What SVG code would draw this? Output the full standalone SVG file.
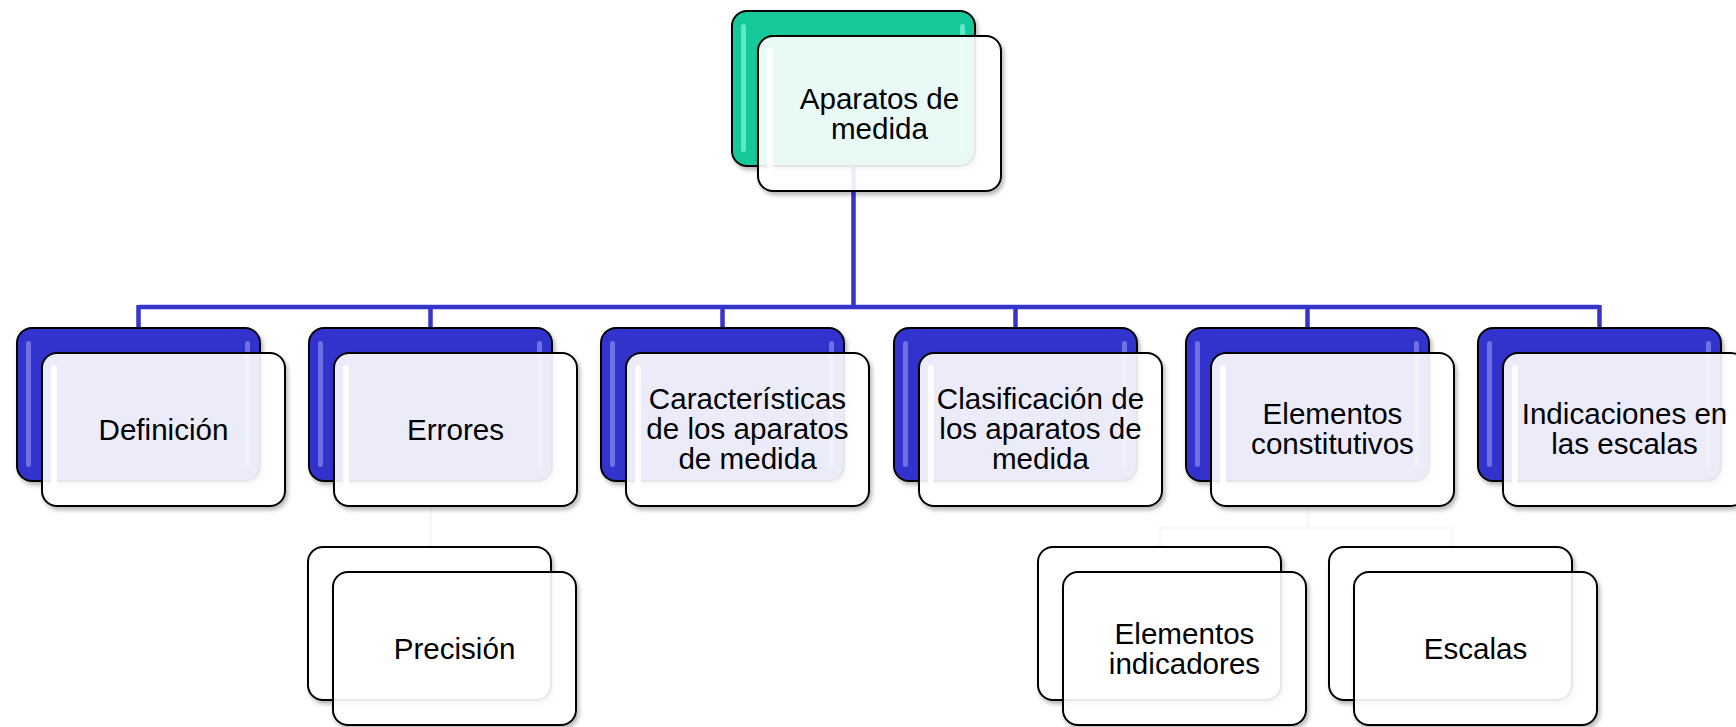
<svg xmlns="http://www.w3.org/2000/svg" width="1736" height="727" viewBox="0 0 1736 727">
<defs>
<filter id="sh" x="-10%" y="-10%" width="125%" height="130%">
<feGaussianBlur in="SourceAlpha" stdDeviation="2" result="b"/>
<feOffset in="b" dx="2" dy="3" result="o"/>
<feComposite in="o" in2="SourceAlpha" operator="out" result="s"/>
<feColorMatrix in="s" type="matrix" values="0 0 0 0 0  0 0 0 0 0  0 0 0 0 0  0 0 0 0.3 0" result="sc"/>
<feMerge><feMergeNode in="sc"/><feMergeNode in="SourceGraphic"/></feMerge>
</filter>
<style>
.back{stroke:#000;stroke-width:2;filter:url(#sh)}
.blue{fill:#3333CC}
.green{fill:#19C99A}
.white{fill:#fff}
.front{fill:#fff;fill-opacity:0.9;stroke:#000;stroke-width:2;filter:url(#sh)}
.hlb{fill:#8a8af0;opacity:0.7}
.hlg{fill:#7ff5d8;opacity:0.7}
.hlw{fill:#fff;opacity:0.9}
.con{fill:none;stroke:#3535CC;stroke-width:4.5}
.faint{fill:none;stroke:#f8f8f8;stroke-width:3}
text{font-family:"Liberation Sans",Arial,sans-serif;font-size:29.6px;fill:#000;text-anchor:middle}
</style>
</defs>
<rect width="1736" height="727" fill="#fff"/>

<g id="connectors">
<path class="con" d="M853.5 166V307M138.5 307H1599.5M138.5 305V328M430.5 305V328M722.5 305V328M1015.5 305V328M1307.5 305V328M1599.5 305V328"/>
<path class="faint" d="M430.5 507V547M1307.5 507V528M1160 528H1452M1160 526V547M1452 526V547"/>
</g>

<g id="n-top">
<rect class="back green" x="732" y="11" width="243" height="155" rx="15"/>
<rect class="hlg" x="741" y="24" width="5" height="128" rx="2.5"/>
<rect class="hlg" x="960" y="24" width="5" height="128" rx="2.5"/>
<rect class="front" x="758" y="36" width="243" height="155" rx="15"/>
<rect class="hlw" x="767" y="48" width="6" height="128" rx="3"/>
<text x="879.5" y="109">Aparatos de</text>
<text x="879.5" y="139">medida</text>
</g>

<g id="n-definicion">
<rect class="back blue" x="17" y="328" width="243" height="153" rx="15"/>
<rect class="hlb" x="26" y="341" width="5" height="126" rx="2.5"/>
<rect class="hlb" x="245" y="341" width="5" height="126" rx="2.5"/>
<rect class="front" x="42" y="353" width="243" height="153" rx="15"/>
<rect class="hlw" x="51" y="365" width="6" height="126" rx="3"/>
<text x="163.5" y="440">Definición</text>
</g>

<g id="n-errores">
<rect class="back blue" x="309" y="328" width="243" height="153" rx="15"/>
<rect class="hlb" x="318" y="341" width="5" height="126" rx="2.5"/>
<rect class="hlb" x="537" y="341" width="5" height="126" rx="2.5"/>
<rect class="front" x="334" y="353" width="243" height="153" rx="15"/>
<rect class="hlw" x="343" y="365" width="6" height="126" rx="3"/>
<text x="455.5" y="440">Errores</text>
</g>

<g id="n-caracteristicas">
<rect class="back blue" x="601" y="328" width="243" height="153" rx="15"/>
<rect class="hlb" x="610" y="341" width="5" height="126" rx="2.5"/>
<rect class="hlb" x="829" y="341" width="5" height="126" rx="2.5"/>
<rect class="front" x="626" y="353" width="243" height="153" rx="15"/>
<rect class="hlw" x="635" y="365" width="6" height="126" rx="3"/>
<text x="747.5" y="409">Características</text>
<text x="747.5" y="439">de los aparatos</text>
<text x="747.5" y="469">de medida</text>
</g>

<g id="n-clasificacion">
<rect class="back blue" x="894" y="328" width="243" height="153" rx="15"/>
<rect class="hlb" x="903" y="341" width="5" height="126" rx="2.5"/>
<rect class="hlb" x="1122" y="341" width="5" height="126" rx="2.5"/>
<rect class="front" x="919" y="353" width="243" height="153" rx="15"/>
<rect class="hlw" x="928" y="365" width="6" height="126" rx="3"/>
<text x="1040.5" y="409">Clasificación de</text>
<text x="1040.5" y="439">los aparatos de</text>
<text x="1040.5" y="469">medida</text>
</g>

<g id="n-elementos">
<rect class="back blue" x="1186" y="328" width="243" height="153" rx="15"/>
<rect class="hlb" x="1195" y="341" width="5" height="126" rx="2.5"/>
<rect class="hlb" x="1414" y="341" width="5" height="126" rx="2.5"/>
<rect class="front" x="1211" y="353" width="243" height="153" rx="15"/>
<rect class="hlw" x="1220" y="365" width="6" height="126" rx="3"/>
<text x="1332.5" y="424">Elementos</text>
<text x="1332.5" y="454">constitutivos</text>
</g>

<g id="n-indicaciones">
<rect class="back blue" x="1478" y="328" width="243" height="153" rx="15"/>
<rect class="hlb" x="1487" y="341" width="5" height="126" rx="2.5"/>
<rect class="hlb" x="1706" y="341" width="5" height="126" rx="2.5"/>
<rect class="front" x="1503" y="353" width="243" height="153" rx="15"/>
<rect class="hlw" x="1512" y="365" width="6" height="126" rx="3"/>
<text x="1624.5" y="424">Indicaciones en</text>
<text x="1624.5" y="454">las escalas</text>
</g>

<g id="n-precision">
<rect class="back white" x="308" y="547" width="243" height="153" rx="15"/>
<rect class="front" x="333" y="572" width="243" height="153" rx="15"/>
<text x="454.5" y="659">Precisión</text>
</g>

<g id="n-indicadores">
<rect class="back white" x="1038" y="547" width="243" height="153" rx="15"/>
<rect class="front" x="1063" y="572" width="243" height="153" rx="15"/>
<text x="1184.5" y="644">Elementos</text>
<text x="1184.5" y="674">indicadores</text>
</g>

<g id="n-escalas">
<rect class="back white" x="1329" y="547" width="243" height="153" rx="15"/>
<rect class="front" x="1354" y="572" width="243" height="153" rx="15"/>
<text x="1475.5" y="659">Escalas</text>
</g>
</svg>
